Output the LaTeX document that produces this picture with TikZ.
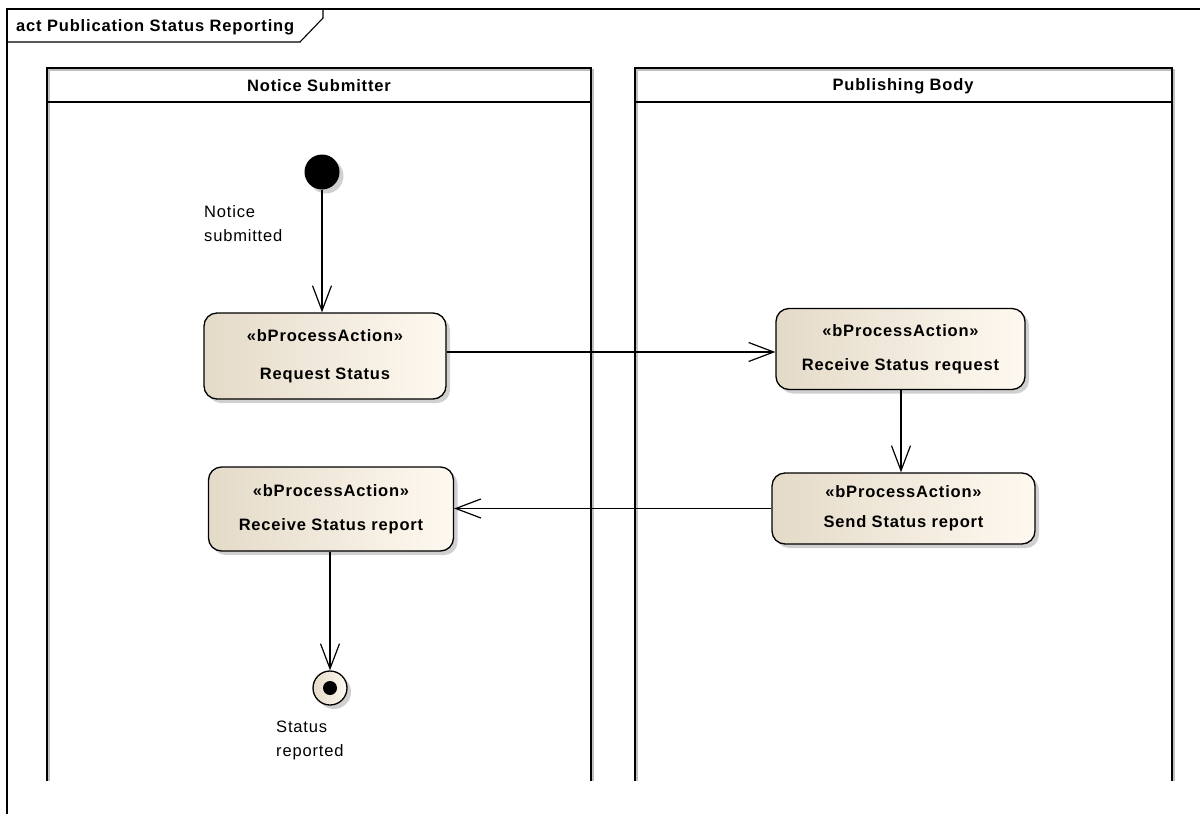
\documentclass[tikz,border=0pt]{standalone}
\usepackage{fontspec}
\setmainfont{Liberation Sans}[LetterSpace=5]
\usetikzlibrary{arrows.meta,shadows}
\definecolor{boxtan}{RGB}{228,218,200}
\definecolor{boxcream}{RGB}{254,249,240}
\definecolor{shadowgray}{RGB}{150,150,150}
\begin{document}
\begin{tikzpicture}[x=1pt,y=-1pt,
  every node/.style={font=\fontsize{16.5}{20}\selectfont, inner sep=0pt},
  frameline/.style={draw=black, line width=1.1pt},
  laneline/.style={draw=black, line width=1.8pt},
  laneshadow/.style={draw=shadowgray!60, line width=1.6pt},
  softshadow/.style={drop shadow={shadow xshift=4pt, shadow yshift=-4pt, fill=shadowgray, opacity=0.45}},
  action/.style={rounded corners=13pt, draw=black, line width=1.3pt,
    left color=boxtan, right color=boxcream, softshadow,
    align=center, font=\fontsize{16.5}{20}\selectfont\bfseries},
  flow/.style={draw=black, line width=1.2pt,
    -{Straight Barb[length=25pt, width=19pt, line width=1.2pt]}},
  lanetitle/.style={font=\fontsize{16.5}{20}\selectfont\bfseries},
  note/.style={anchor=west, align=left, font=\fontsize{16.5}{24}\selectfont}
]
\useasboundingbox (0,0) rectangle (1200,814);

% diagram frame and its name tab
\draw[frameline] (7,814) -- (7,9) -- (1200,9);
\draw[frameline] (7,42) -- (300,42) -- (323,18) -- (323,9);
\node[anchor=west, font=\fontsize{16.5}{20}\selectfont\bfseries] (frametitle) at (16,27) {act Publication Status Reporting};

% swimlanes (with soft edge shadow)
\draw[laneshadow] (49,781) -- (49,70) -- (593,70) -- (593,781);
\draw[laneshadow] (637,781) -- (637,70) -- (1174,70) -- (1174,781);
\draw[laneline] (47,781) -- (47,68) -- (591,68) -- (591,781);
\draw[laneline] (47,102) -- (591,102);
\draw[laneline] (635,781) -- (635,68) -- (1172,68) -- (1172,781);
\draw[laneline] (635,102) -- (1172,102);
\node[lanetitle] (lane1) at (319,86) {Notice Submitter};
\node[lanetitle] (lane2) at (903,86) {Publishing Body};

% initial and final nodes
\node[circle, fill=black, minimum size=35pt, softshadow] (init) at (322,172) {};
\node[note] (initlbl) at (204,224) {Notice\\submitted};

\node[circle, draw=black, line width=1.3pt, left color=boxtan, right color=boxcream,
      minimum size=34pt, softshadow,
      path picture={\fill[black] (path picture bounding box.center) circle (7pt);}] (final) at (330,688) {};
\node[note] (finallbl) at (276,740) {Status\\reported};

% actions
\node[action, minimum width=242pt, minimum height=86pt] (req) at (325,356)
  {«bProcessAction»\\[18pt]Request Status};
\node[action, minimum width=249pt, minimum height=81pt] (rsr) at (900.5,349)
  {«bProcessAction»\\[14pt]Receive Status request};
\node[action, minimum width=263pt, minimum height=71pt] (ssr) at (903.5,508.5)
  {«bProcessAction»\\[10pt]Send Status report};
\node[action, minimum width=245pt, minimum height=84pt] (rrep) at (331,509)
  {«bProcessAction»\\[14pt]Receive Status report};

% control flows
\draw[flow] (init) -- (init |- req.north);
\draw[flow] (req.east |- 0,352) -- (rsr.west |- 0,352);
\draw[flow] (rsr.south -| 901,0) -- (ssr.north -| 901,0);
\draw[flow] (ssr.west) -- (ssr.west -| rrep.east);
\draw[flow] (rrep.south -| final) -- (final.north);
\end{tikzpicture}
\end{document}
